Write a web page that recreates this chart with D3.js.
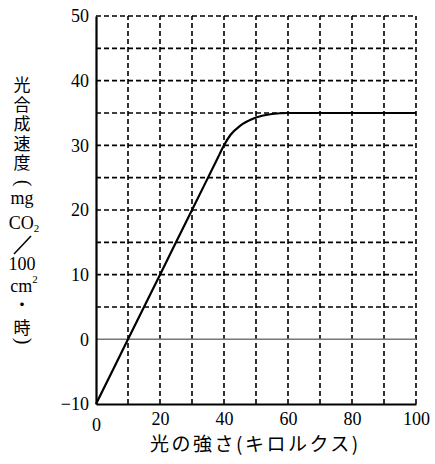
<!DOCTYPE html>
<html><head><meta charset="utf-8">
<script src="https://cdn.jsdelivr.net/npm/d3@7"></script>
<style>
body{margin:0;background:#fff;}
text{fill:#000;}
</style></head>
<body><svg id="c" width="435" height="464"></svg>
<script>
const xTicks=[0,20,40,60,80,100];
const yTicks=[-10,0,10,20,30,40,50];
const xGrid=[10,20,30,40,50,60,70,80,90,100];
const yGrid=[5,10,15,20,25,30,35,40,45,50];
const curveX=[0,10,20,30,38,40,42,45,50,55,60,80,100];
const curveY=[-10,0,10,20,28,30,31.6,33,34.3,34.85,35,35,35];
const xTitle="光の強さ(キロルクス)";

const svg=d3.select("#c");
const m={l:96,t:16,w:320,h:388};
const x=d3.scaleLinear().domain([0,100]).range([m.l,m.l+m.w]);
const y=d3.scaleLinear().domain([-10,50]).range([m.t+m.h,m.t]);
const serif="'Liberation Serif','DejaVu Serif',serif";
const cjk="'Noto Sans CJK JP','Noto Sans CJK SC',sans-serif";

// grid
svg.append("g").selectAll("line").data(xGrid).join("line")
  .attr("x1",d=>x(d)).attr("x2",d=>x(d)).attr("y1",y(-10)).attr("y2",y(50))
  .attr("stroke","#000").attr("stroke-width",1.6).attr("stroke-dasharray","5,3");
svg.append("g").selectAll("line").data(yGrid).join("line")
  .attr("x1",x(0)).attr("x2",x(100)).attr("y1",d=>y(d)).attr("y2",d=>y(d))
  .attr("stroke","#000").attr("stroke-width",1.6).attr("stroke-dasharray","5,3");
// zero line
svg.append("line").attr("x1",x(0)).attr("x2",x(100)).attr("y1",y(0)).attr("y2",y(0))
  .attr("stroke","#777").attr("stroke-width",1.5);

// axes
const ax=svg.append("g").attr("transform",`translate(0,${y(-10)})`)
  .call(d3.axisBottom(x).tickValues(xTicks).tickSize(0).tickSizeOuter(0).tickPadding(8));
const ay=svg.append("g").attr("transform",`translate(${x(0)},0)`)
  .call(d3.axisLeft(y).tickValues(yTicks).tickSize(0).tickSizeOuter(0).tickPadding(7)
    .tickFormat(d=>d<0?"−"+Math.abs(d):d));
[ax,ay].forEach(g=>{
  g.select(".domain").attr("stroke","#000").attr("stroke-width",2.2);
  g.selectAll("text").attr("font-family",serif).attr("font-size",18).attr("fill","#000");
});
ax.selectAll(".tick text").filter(d=>d===0).attr("dy","1.05em");

// curve
const pts=curveX.map((d,i)=>[d,curveY[i]]);
svg.append("path").datum(pts)
  .attr("d",d3.line().x(d=>x(d[0])).y(d=>y(d[1])).curve(d3.curveMonotoneX))
  .attr("fill","none").attr("stroke","#000").attr("stroke-width",2.2);

// x title
svg.append("text").attr("x",150).attr("y",451).attr("text-anchor","start")
  .attr("font-family",cjk).attr("font-size",19).attr("letter-spacing",2.5).text(xTitle);

// y title (vertical stack)
const yl=svg.append("g");
yl.append("text").attr("x",22).attr("y",76.5).style("writing-mode","vertical-rl")
  .attr("font-family",cjk).attr("font-size",17).attr("letter-spacing",2.5).text("光合成速度");
yl.append("text").attr("transform","translate(22,183) rotate(90)").attr("dy","0.24em")
  .attr("text-anchor","middle").attr("font-family",serif).attr("font-size",20).text("(");
yl.append("text").attr("x",22).attr("y",204).attr("text-anchor","middle")
  .attr("font-family",serif).attr("font-size",18).text("mg");
const co=yl.append("text").attr("x",24).attr("y",229).attr("text-anchor","middle")
  .attr("font-family",serif).attr("font-size",18);
co.append("tspan").text("CO");
co.append("tspan").attr("font-size",11).attr("dy",3).text("2");
yl.append("line").attr("x1",14).attr("x2",31).attr("y1",254).attr("y2",236).attr("stroke","#000").attr("stroke-width",1.5);
yl.append("text").attr("x",22).attr("y",270).attr("text-anchor","middle")
  .attr("font-family",serif).attr("font-size",18).text("100");
const cm=yl.append("text").attr("x",24).attr("y",292).attr("text-anchor","middle")
  .attr("font-family",serif).attr("font-size",18);
cm.append("tspan").text("cm");
cm.append("tspan").attr("font-size",11).attr("dy",-9).text("2");
yl.append("text").attr("x",22).attr("y",296.5).style("writing-mode","vertical-rl")
  .attr("font-family",cjk).attr("font-size",17).attr("letter-spacing",5.5).text("・時");
yl.append("text").attr("transform","translate(22,341) rotate(90)").attr("dy","0.24em")
  .attr("text-anchor","middle").attr("font-family",serif).attr("font-size",20).text(")");
</script></body></html>
